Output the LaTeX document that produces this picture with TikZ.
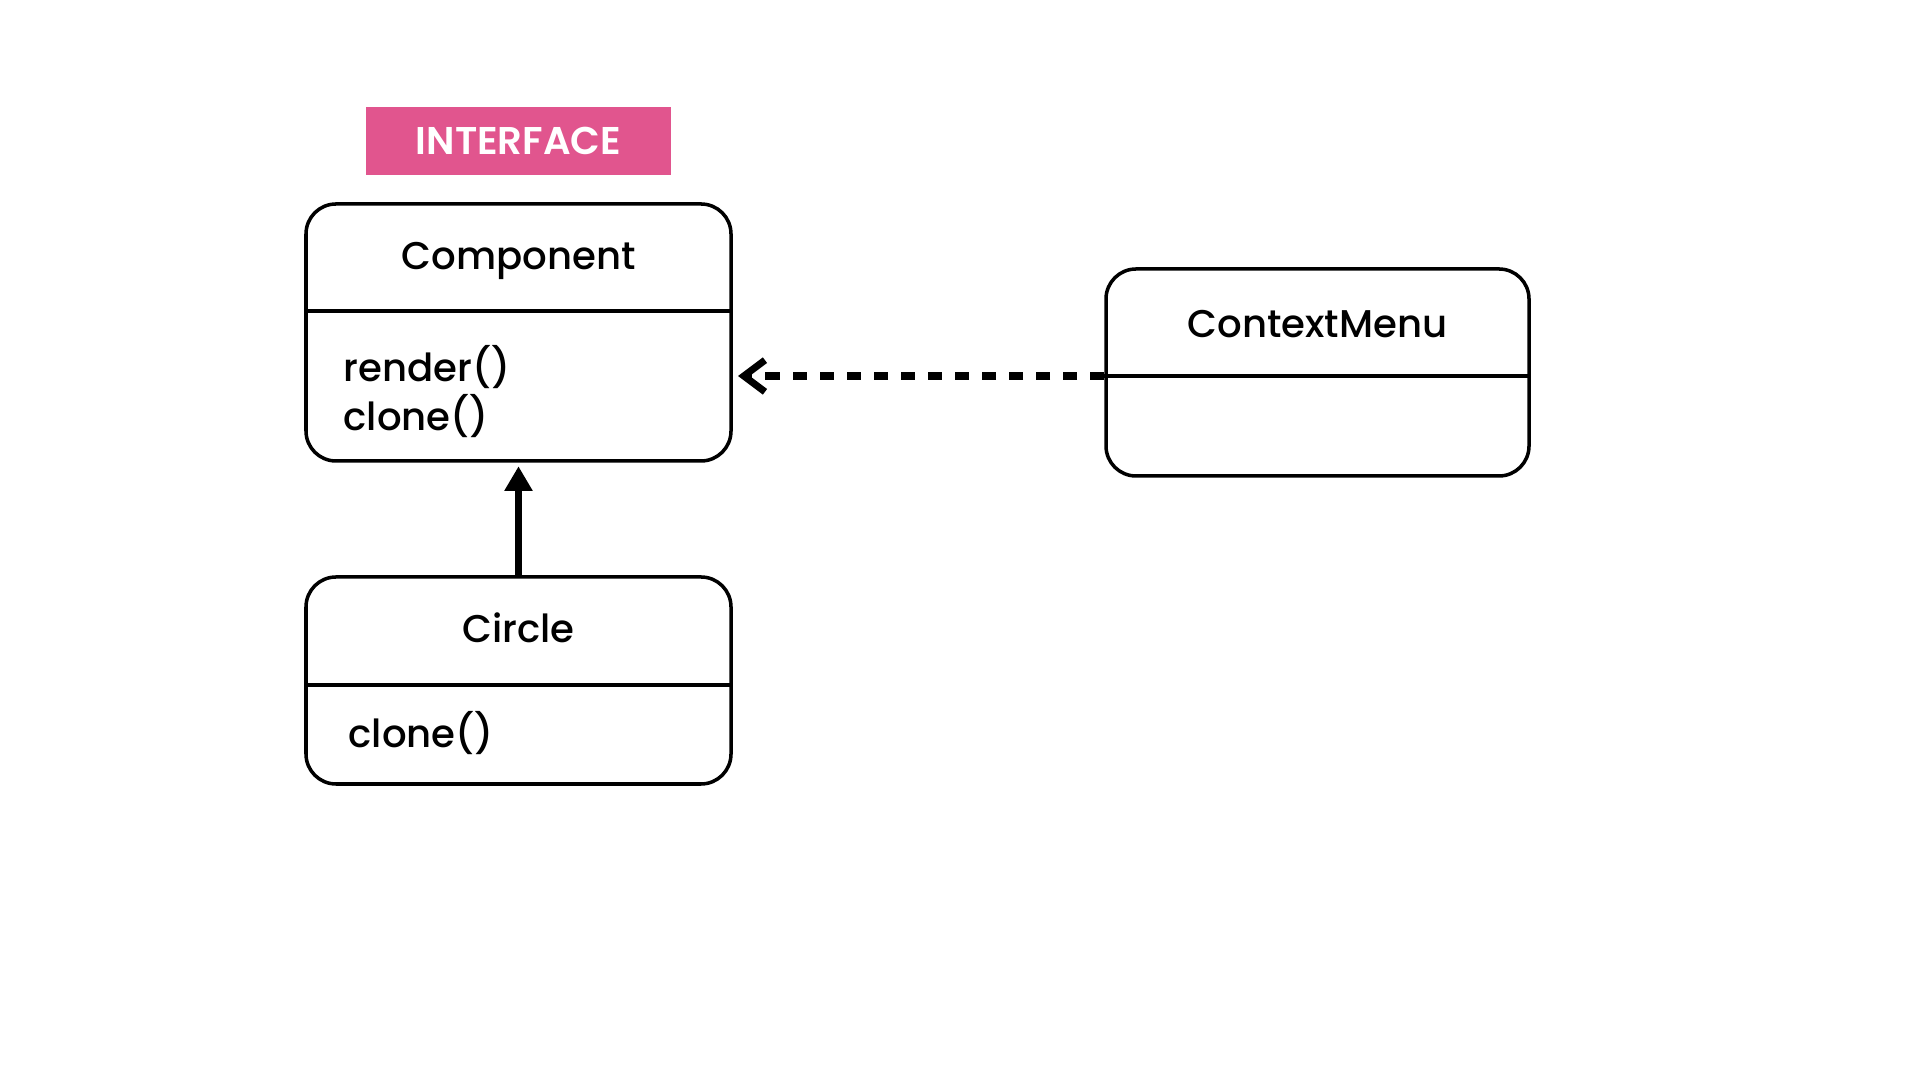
\documentclass[tikz,border=0pt]{standalone}
\usepackage{fontspec}
\setmainfont{Poppins}
\newfontfamily\popmedium{Poppins Medium}
\newfontfamily\popsemi{Poppins SemiBold}
\usetikzlibrary{arrows.meta}
\definecolor{ifacepink}{RGB}{225,85,142}

\tikzset{
  classbox/.style={draw, line width=1pt, rounded corners=0.3cm, minimum width=4.25cm, inner sep=0pt},
  classname/.style={font=\popmedium\fontsize{11}{14}\selectfont, anchor=base, inner sep=0pt},
  method/.style={font=\popmedium\fontsize{11}{14}\selectfont, anchor=base west, inner sep=0pt},
  divider/.style={line width=1pt},
  inherits/.style={line width=2pt, -{Triangle[width=7.6pt,length=7pt]}, shorten >=1pt},
  uses/.style={line width=2pt, dash pattern=on 4pt off 3.7pt, -{Straight Barb[length=6pt,width=9pt,line width=2pt]}, shorten >=1.5pt},
}

\begin{document}
\begin{tikzpicture}
    \useasboundingbox (0,0) rectangle (19.2,10.8);
    % stereotype label
    \node[fill=ifacepink, minimum width=3.05cm, minimum height=0.68cm, inner sep=0pt] (iface) at (5.185,9.39) {\color{white}\popsemi\fontsize{11}{14}\selectfont INTERFACE};
    % Component
    \node[classbox, minimum height=2.57cm] (comp) at (5.185,7.475) {};
    \draw[divider] (comp.west |- 0,7.69) -- (comp.east |- 0,7.69);
    \node[classname] (compname) at (5.185,8.10) {Component};
    \node[method] (render) at (3.43,6.98) {render()};
    \node[method] (compclone) at (3.43,6.49) {clone()};
    % Circle
    \node[classbox, minimum height=2.07cm] (circ) at (5.185,3.995) {};
    \draw[divider] (circ.west |- 0,3.95) -- (circ.east |- 0,3.95);
    \node[classname] (circname) at (5.185,4.37) {Circle};
    \node[method] (circclone) at (3.48,3.32) {clone()};
    % ContextMenu
    \node[classbox, minimum width=4.23cm, minimum height=2.07cm] (ctx) at (13.175,7.075) {};
    \coordinate (ctxdiv) at (ctx.west |- 0,7.04);
    \draw[divider] (ctxdiv) -- (ctx.east |- ctxdiv);
    \node[classname] (ctxname) at (13.175,7.42) {ContextMenu};
    % relations
    \draw[inherits] (circ.north) -- (comp.south);
    \draw[uses] (ctxdiv) -- (comp.east |- ctxdiv);
\end{tikzpicture}
\end{document}
